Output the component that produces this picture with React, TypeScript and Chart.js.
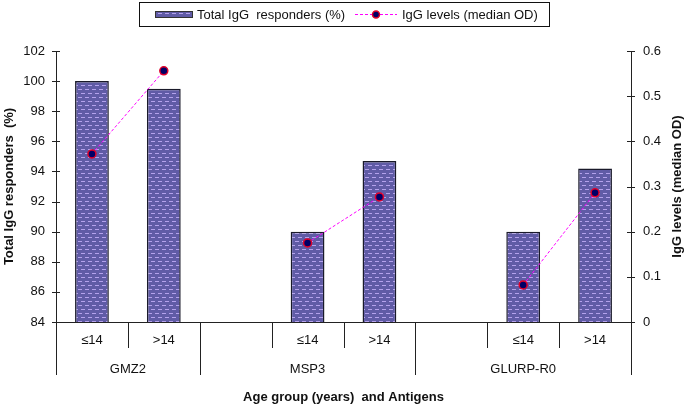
import React, { useEffect, useRef } from "react";
import { Chart, registerables } from "chart.js";

Chart.register(...registerables);

const categories = ["≤14", ">14", "", "≤14", ">14", "", "≤14", ">14"];
const groups = ["GMZ2", "MSP3", "GLURP-R0"];
const groupBoundaries = [0, 2, 5, 8];
const responders = [100, 99.5, null, 90, 94.7, null, 90, 94.2];
const iggLevels = [0.372, 0.556, null, 0.175, 0.277, null, 0.082, 0.286];
const leftTicks = [84, 86, 88, 90, 92, 94, 96, 98, 100, 102];
const rightTicks = [0, 0.1, 0.2, 0.3, 0.4, 0.5, 0.6];

const FONT = "'Liberation Sans', Arial, sans-serif";

function makePattern(): CanvasPattern | string {
  const c = document.createElement("canvas");
  c.width = 7;
  c.height = 8;
  const g = c.getContext("2d");
  if (!g) return "#605ba6";
  g.fillStyle = "#605ba6";
  g.fillRect(0, 0, 7, 8);
  g.fillStyle = "#b4a2ec";
  g.fillRect(1, 1, 4, 1);
  g.fillRect(4, 5, 3, 1);
  g.fillRect(0, 5, 1, 1);
  const p = g.createPattern(c, "repeat");
  return p || "#605ba6";
}

export default function App() {
  const ref = useRef<HTMLCanvasElement | null>(null);

  useEffect(() => {
    if (!ref.current) return;
    const pattern = makePattern();

    const overlay = {
      id: "overlay",
      afterDraw(chart: any) {
        const ctx = chart.ctx as CanvasRenderingContext2D;
        const x = chart.scales.x;
        const y = chart.scales.y;
        const y1 = chart.scales.y1;
        const area = chart.chartArea;
        ctx.save();
        ctx.strokeStyle = "#222";
        ctx.lineWidth = 1;
        leftTicks.forEach((v) => {
          const py = Math.round(y.getPixelForValue(v)) + 0.5;
          ctx.beginPath();
          ctx.moveTo(area.left - 4, py);
          ctx.lineTo(area.left + 4, py);
          ctx.stroke();
        });
        rightTicks.forEach((v) => {
          const py = Math.round(y1.getPixelForValue(v)) + 0.5;
          ctx.beginPath();
          ctx.moveTo(area.right - 4, py);
          ctx.lineTo(area.right + 4, py);
          ctx.stroke();
        });
        for (let i = 0; i <= categories.length; i++) {
          const px = Math.round(x.getPixelForValue(i - 0.5)) + 0.5;
          const long = groupBoundaries.includes(i);
          ctx.beginPath();
          ctx.moveTo(px, area.bottom);
          ctx.lineTo(px, area.bottom + (long ? 53 : 26));
          ctx.stroke();
        }
        ctx.fillStyle = "#111";
        ctx.font = `13px ${FONT}`;
        ctx.textAlign = "center";
        ctx.textBaseline = "middle";
        groups.forEach((g, gi) => {
          const a = x.getPixelForValue(groupBoundaries[gi] - 0.5);
          const b = x.getPixelForValue(groupBoundaries[gi + 1] - 0.5);
          ctx.fillText(g, (a + b) / 2, area.bottom + 47);
        });
        ctx.save();
        ctx.translate(677, (area.top + area.bottom) / 2);
        ctx.rotate(-Math.PI / 2);
        ctx.font = `bold 13px ${FONT}`;
        ctx.fillStyle = "#111";
        ctx.fillText("IgG levels (median OD)", 0, 0);
        ctx.restore();
        ctx.strokeStyle = "#111";
        ctx.strokeRect(139.5, 2.5, 410, 24);
        ctx.fillStyle = pattern as any;
        ctx.fillRect(155, 11, 37, 6);
        ctx.strokeStyle = "#333";
        ctx.strokeRect(155.5, 11.5, 37, 6);
        ctx.fillStyle = "#111";
        ctx.textAlign = "left";
        ctx.textBaseline = "middle";
        ctx.font = `13px ${FONT}`;
        ctx.fillText("Total IgG  responders (%)", 197, 15);
        ctx.strokeStyle = "#ff00ff";
        ctx.setLineDash([3, 2]);
        ctx.beginPath();
        ctx.moveTo(355, 14.5);
        ctx.lineTo(397, 14.5);
        ctx.stroke();
        ctx.setLineDash([]);
        ctx.beginPath();
        ctx.arc(376, 14.5, 3.5, 0, Math.PI * 2);
        ctx.fillStyle = "#000066";
        ctx.fill();
        ctx.strokeStyle = "#e0002a";
        ctx.lineWidth = 1.5;
        ctx.stroke();
        ctx.fillStyle = "#111";
        ctx.fillText("IgG levels (median OD)", 402, 15);
        ctx.restore();
      },
    };

    const chart = new Chart(ref.current, {
      type: "bar",
      data: {
        labels: categories,
        datasets: [
          {
            type: "line",
            label: "IgG levels (median OD)",
            data: iggLevels as any,
            yAxisID: "y1",
            borderColor: "#ff00ff",
            borderWidth: 1,
            borderDash: [3, 2],
            pointRadius: 4,
            pointBackgroundColor: "#000066",
            pointBorderColor: "#e0002a",
            pointBorderWidth: 1.5,
            spanGaps: false,
            order: 0,
          } as any,
          {
            type: "bar",
            label: "Total IgG  responders (%)",
            data: responders as any,
            yAxisID: "y",
            backgroundColor: pattern as any,
            borderColor: "#1a1a2a",
            borderWidth: 1.5,
            barPercentage: 0.47,
            categoryPercentage: 1,
            order: 1,
          } as any,
        ],
      },
      options: {
        responsive: false,
        animation: false,
        layout: { padding: { top: 51, left: 0, right: 0, bottom: 0 } },
        plugins: {
          legend: { display: false },
          tooltip: { enabled: false },
        },
        scales: {
          x: {
            offset: true,
            grid: { display: false, drawTicks: false, offset: true },
            border: { display: true, color: "#222" },
            ticks: {
              padding: 11,
              color: "#111",
              font: { family: FONT, size: 13 },
              autoSkip: false,
              maxRotation: 0,
            },
            title: {
              display: true,
              text: "Age group (years)  and Antigens",
              color: "#111",
              font: { family: FONT, size: 13, weight: "bold" },
              padding: { top: 0, bottom: 0 },
            },
            afterFit: (s: any) => {
              s.height = 83;
            },
          },
          y: {
            position: "left",
            min: 84,
            max: 102,
            grid: { display: false, drawTicks: false },
            border: { display: true, color: "#222" },
            ticks: {
              stepSize: 2,
              padding: 11,
              color: "#111",
              font: { family: FONT, size: 13 },
            },
            title: {
              display: true,
              text: "Total IgG responders  (%)",
              color: "#111",
              font: { family: FONT, size: 13, weight: "bold" },
              padding: { top: 2, bottom: 0 },
            },
            afterFit: (s: any) => {
              s.width = 56;
            },
          },
          y1: {
            position: "right",
            min: 0,
            max: 0.6,
            grid: { display: false, drawTicks: false },
            border: { display: true, color: "#222" },
            ticks: {
              stepSize: 0.1,
              padding: 12,
              color: "#111",
              font: { family: FONT, size: 13 },
              callback: (v: any) => String(Math.round(Number(v) * 10) / 10),
            },
            afterFit: (s: any) => {
              s.width = 54;
            },
          },
        },
      },
      plugins: [overlay],
    } as any);

    return () => chart.destroy();
  }, []);

  return (
    <div style={{ position: "absolute", left: 0, top: 0, width: 685, height: 405, background: "#fff" }}>
      <canvas ref={ref} width={685} height={405} style={{ display: "block" }} />
    </div>
  );
}
